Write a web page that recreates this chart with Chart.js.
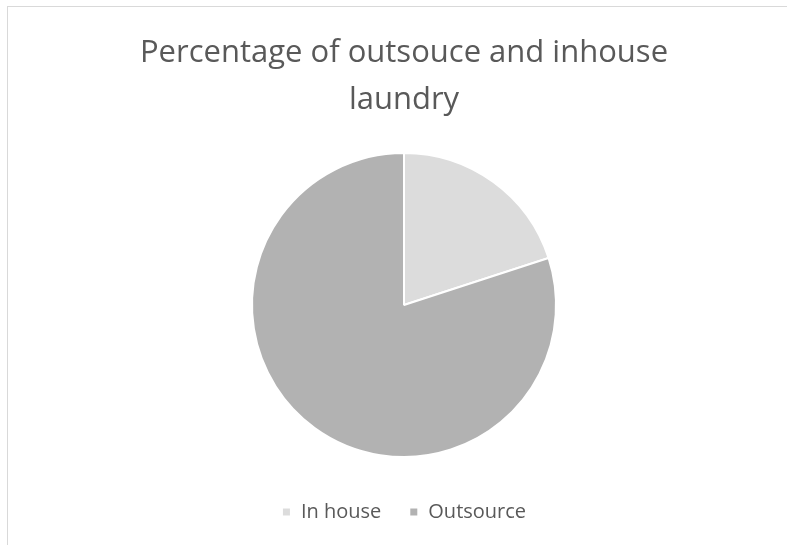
<!DOCTYPE html>
<html>
<head>
<meta charset="utf-8">
<script src="https://cdn.jsdelivr.net/npm/chart.js@4"></script>
<style>
  html, body { margin: 0; padding: 0; background: #ffffff; }
  #wrap { position: relative; width: 787px; height: 545px; overflow: hidden; }
  #frame { position: absolute; left: 7px; top: 6px; width: 900px; height: 700px;
           border-top: 1px solid #d9d9d9; border-left: 1px solid #d9d9d9; }
  #c { position: absolute; left: 0; top: 0; }
</style>
</head>
<body>
<div id="wrap">
  <div id="frame"></div>
  <canvas id="c" width="787" height="545"></canvas>
</div>
<script>
const titleLines = ["Percentage of outsouce and inhouse", "laundry"];
const categories = ["In house", "Outsource"];
const shares = [20, 80];
const sliceColors = ["#dcdcdc", "#b2b2b2"];

new Chart(document.getElementById("c"), {
  type: "pie",
  data: {
    labels: categories,
    datasets: [{
      data: shares,
      backgroundColor: sliceColors,
      borderColor: "#ffffff",
      borderWidth: 2
    }]
  },
  options: {
    responsive: false,
    animation: false,
    layout: { padding: { left: 21, right: 0, top: 0, bottom: 13 } },
    plugins: {
      tooltip: { enabled: false },
      title: {
        display: true,
        text: titleLines,
        color: "#595959",
        font: { family: "Open Sans", size: 31, weight: "normal", lineHeight: 1.516 },
        padding: { top: 30, bottom: 28 }
      },
      legend: {
        position: "bottom",
        title: {
          display: true,
          text: "",
          font: { size: 1, lineHeight: 1 },
          padding: 7.5
        },
        labels: {
          color: "#595959",
          font: { family: "Open Sans", size: 20 },
          boxWidth: 9,
          boxHeight: 9,
          padding: 28
        }
      }
    }
  }
});
</script>
</body>
</html>
